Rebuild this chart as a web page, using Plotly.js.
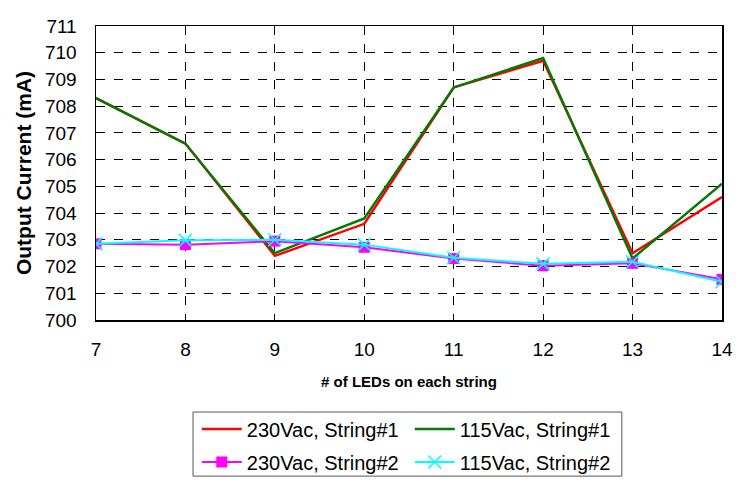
<!DOCTYPE html>
<html>
<head>
<meta charset="utf-8">
<script src="https://cdn.plot.ly/plotly-3.0.1.min.js"></script>
<style>
  html, body { margin: 0; padding: 0; background: #fff; }
  #chart { width: 739px; height: 484px; }
</style>
</head>
<body>
<div id="chart"></div>
<script>
// Number of LEDs per string
const ledCount = [7, 8, 9, 10, 11, 12, 13, 14];

// Output current (mA) per configuration
const ac230String1 = [708.3, 706.6, 702.4, 703.6, 708.7, 709.7, 702.5, 704.6];
const ac115String1 = [708.3, 706.6, 702.5, 703.8, 708.7, 709.8, 702.3, 705.1];
const ac230String2 = [702.85, 702.82, 702.95, 702.72, 702.3, 702.03, 702.12, 701.52];
const ac115String2 = [702.85, 702.98, 703.0, 702.82, 702.33, 702.1, 702.18, 701.43];

const seriesNames = ['230Vac, String#1', '115Vac, String#1', '230Vac, String#2', '115Vac, String#2'];
const yTicks = [700, 701, 702, 703, 704, 705, 706, 707, 708, 709, 710, 711];

const traces = [
  { x: ledCount, y: ac230String1, name: seriesNames[0], mode: 'lines', legend: 'legend',
    line: { color: '#ff0000', width: 2.4 } },
  { x: ledCount, y: ac115String1, name: seriesNames[1], mode: 'lines', legend: 'legend',
    line: { color: '#007a00', width: 2.4 } },
  { x: ledCount, y: ac230String2, name: seriesNames[2], mode: 'lines+markers', legend: 'legend2',
    line: { color: '#ff00ff', width: 2 },
    marker: { symbol: 'square', size: 11, color: '#ff00ff' } },
  { x: ledCount, y: ac115String2, name: seriesNames[3], mode: 'lines+markers', legend: 'legend2',
    line: { color: '#00ffff', width: 2 },
    marker: { symbol: 'x-thin', size: 13, line: { color: '#00ffff', width: 1.5 } } }
];

// One row per legend, placed in container space; the shared frame is a shape
const legendRow = (yPos) => ({
  orientation: 'h', x: 0.161, y: yPos, xanchor: 'left', yanchor: 'middle', yref: 'container',
  entrywidth: 158, itemwidth: 40, borderwidth: 0, bgcolor: 'rgba(0,0,0,0)',
  font: { size: 20 }, traceorder: 'normal'
});

const layout = {
  width: 739, height: 484,
  margin: { l: 96, r: 17, t: 26, b: 164, autoexpand: false },
  paper_bgcolor: '#ffffff', plot_bgcolor: '#ffffff',
  font: { family: 'Liberation Sans, Arial, sans-serif', color: '#000', size: 18 },
  showlegend: true,
  xaxis: {
    range: [7, 14], tickvals: ledCount, ticktext: ledCount.map(String),
    showgrid: true, gridcolor: '#000', griddash: 'dash', gridwidth: 1,
    zeroline: false, showline: true, linecolor: '#000', linewidth: 1.5, mirror: true,
    ticks: '', ticklabelstandoff: 12, automargin: false,
    tickfont: { size: 19 },
    title: { text: '# of LEDs on each string', font: { size: 15, weight: 'bold' }, standoff: 17 }
  },
  yaxis: {
    range: [700, 711], tickvals: yTicks,
    showgrid: true, gridcolor: '#000', griddash: 'dash', gridwidth: 1,
    zeroline: false, showline: true, linecolor: '#000', linewidth: 1.5, mirror: true,
    ticks: '', ticklabelstandoff: 14, automargin: false,
    tickfont: { size: 19 },
    title: { text: 'Output Current (mA)', font: { size: 21, weight: 'bold' }, standoff: 7 }
  },
  legend: legendRow(0.1136),
  legend2: legendRow(0.0455),
  shapes: [{
    type: 'rect', xref: 'paper', yref: 'paper',
    x0: 0.155, x1: 0.840, y0: -0.531, y1: -0.313,
    line: { color: '#555', width: 1 }, fillcolor: 'rgba(0,0,0,0)', layer: 'above'
  }]
};

Plotly.newPlot('chart', traces, layout, { staticPlot: true, displayModeBar: false });
</script>
</body>
</html>
